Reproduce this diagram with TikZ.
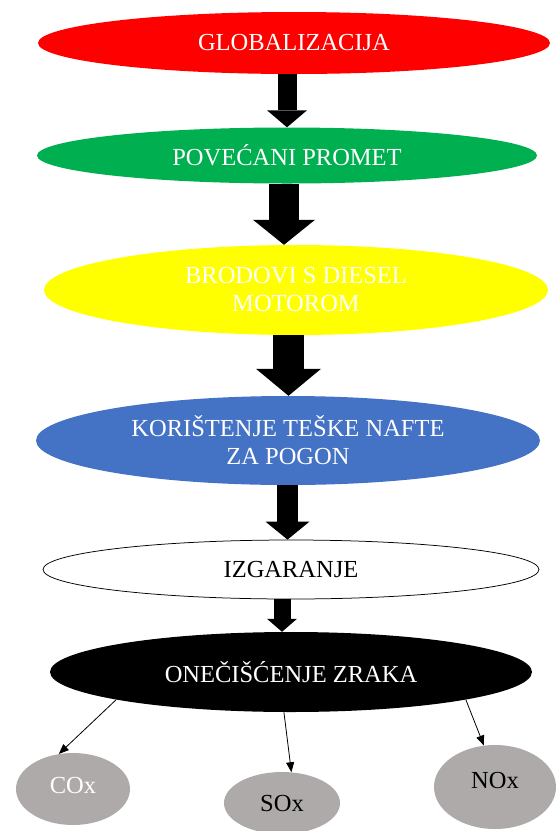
\documentclass[tikz,border=0pt]{standalone}
\usepackage{fontspec}
\setmainfont{Liberation Serif}
\usetikzlibrary{shapes.geometric,arrows.meta}
\definecolor{cred}{HTML}{FF0000}
\definecolor{cgreen}{HTML}{00B050}
\definecolor{cyellow}{HTML}{FFFF00}
\definecolor{cblue}{HTML}{4472C4}
\definecolor{cgrey}{HTML}{AEAAAA}
\begin{document}
\begin{tikzpicture}[x=1pt,y=-1pt,
  ell/.style={ellipse, inner sep=0pt, align=center, font=\fontsize{24.5}{28}\selectfont},
  barrow/.style n args={3}{draw=black, line width=#1, line cap=butt,
     -{Triangle[length=#3,width=#2,line width=0pt]}},
  thin/.style={draw=black, line width=0.8pt, -{Triangle[length=10pt,width=8pt]}}]
\useasboundingbox (0,0) rectangle (556,831);
% nodes
\node[ell, fill=cred, minimum width=512pt, minimum height=62pt, text=white] (glob) at (294,43) {GLOBALIZACIJA};
\node[ell, fill=cgreen, minimum width=500pt, minimum height=56pt, text=white] (prom) at (287,155.5) {POVEĆANI PROMET};
\node[ell, fill=cyellow, minimum width=504pt, minimum height=90pt, text=white] (brod) at (296,290) {BRODOVI S DIESEL\\MOTOROM};
\node[ell, fill=cblue, minimum width=504pt, minimum height=89pt, text=white] (kor) at (288,440.5) {KORIŠTENJE TEŠKE NAFTE\\ZA POGON};
\node[ell, fill=white, draw=black, line width=0.75pt, minimum width=496pt, minimum height=59pt, text=black] (izg) at (291,569.5) {IZGARANJE};
\node[ell, fill=black, minimum width=482pt, minimum height=80pt, text=white] (one) at (291,672) {ONEČIŠĆENJE ZRAKA};
\node[ell, fill=cgrey, minimum width=114pt, minimum height=72pt, text=white, text depth=8pt] (cox) at (73,789) {COx};
\node[ell, fill=cgrey, minimum width=116pt, minimum height=62pt, text=black] (sox) at (282,803) {SOx};
\node[ell, fill=cgrey, minimum width=122pt, minimum height=84pt, text=black, text depth=14pt] (nox) at (495,787) {NOx};
% arrow axes
\coordinate (xa) at (287,0);
\coordinate (xb) at (284,0);
\coordinate (xc) at (288.5,0);
\coordinate (xd) at (287.5,0);
\coordinate (xe) at (282,0);
% block arrows
\draw[barrow={19pt}{40pt}{17pt}] (glob.south -| xa) -- (prom.north -| xa);
\draw[barrow={30pt}{62pt}{25pt}] (prom.south -| xb) -- (brod.north -| xb);
\draw[barrow={31pt}{65pt}{27pt}] (brod.south -| xc) -- (kor.north -| xc);
\draw[barrow={21pt}{44pt}{18pt}] (kor.south -| xd) -- (izg.north -| xd);
\draw[barrow={17pt}{30pt}{13pt}] (izg.south -| xe) -- (one.north -| xe);
% thin arrows
\draw[thin] (one.189) -- (cox.112);
\draw[thin] (one.260) -- (sox.73);
\draw[thin] (one.351) -- (nox.105);
\end{tikzpicture}
\end{document}
